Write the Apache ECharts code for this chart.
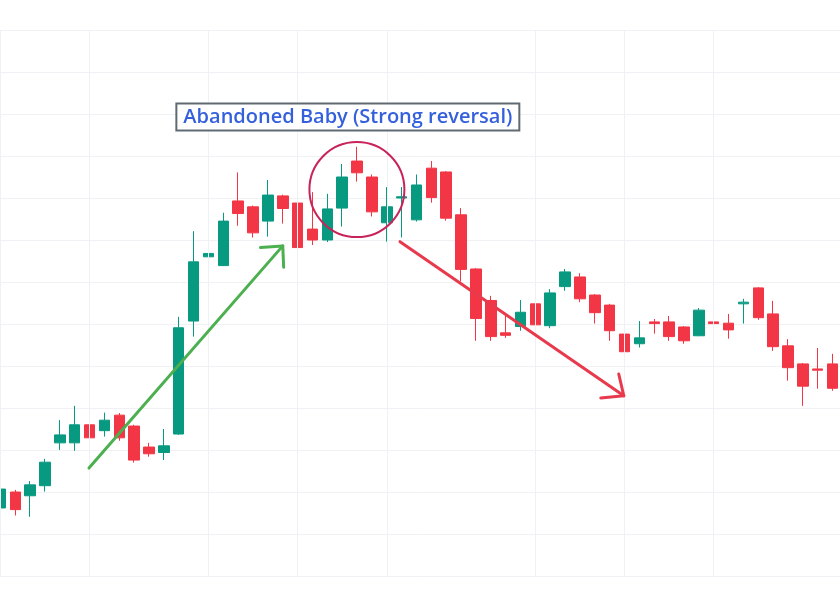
<!DOCTYPE html>
<html><head><meta charset="utf-8">
<script src="https://cdn.jsdelivr.net/npm/echarts@6/dist/echarts.min.js"></script>
<style>html,body{margin:0;padding:0;background:#fff;overflow:hidden;width:840px;height:602px;position:relative}
#c{position:absolute;left:-7px;top:0;width:848px;height:602px}</style>
</head><body><div id="c"></div>
<script>
// ---- data (price units) ----
const categories = ['1','2','3','4','5','6','7','8','9','10','11','12','13','14','15','16','17','18','19','20',
  '21','22','23','24','25','26','27','28','29','30','31','32','33','34','35','36','37','38','39','40',
  '41','42','43','44','45','46','47','48','49','50','51','52','53','54','55','56','57'];
const opens  = [16.2,20.0,19.1,21.5,31.7,31.7,36.0,34.6,38.3,35.7,30.7,29.4,33.8,60.7,76.0,73.9,89.3,87.9,84.5,90.5,
  88.8,82.6,80.0,87.6,98.8,95.0,84.1,90.0,84.8,97.1,96.2,86.0,73.1,65.6,57.9,59.4,64.8,59.6,68.9,71.2,
  66.9,64.5,57.6,55.3,60.5,60.5,59.3,57.2,60.5,60.2,64.8,68.6,62.4,54.8,50.5,49.3,50.5];
const closes = [20.7,15.8,21.7,27.1,33.6,36.0,32.9,37.1,32.9,27.6,29.1,31.0,59.1,74.8,76.8,84.5,86.3,81.7,90.7,87.5,
  78.2,80.0,87.4,95.0,96.0,86.7,87.9,90.3,93.1,90.1,85.2,73.0,61.3,57.0,57.3,62.8,59.8,67.4,72.4,66.0,
  62.7,58.4,53.4,56.7,60.1,57.0,56.0,63.3,60.1,58.6,65.2,61.5,54.6,49.6,45.2,49.0,44.7];
const lows   = [15.2,14.4,14.1,20.1,30.0,29.8,32.0,33.2,32.2,27.0,28.4,27.6,33.6,57.0,71.4,73.8,83.4,80.6,80.8,83.9,
  74.4,78.8,79.5,83.2,93.9,85.6,79.6,80.6,84.4,88.9,84.6,70.1,56.0,56.0,56.7,58.4,59.5,59.0,67.9,65.2,
  60.1,56.0,52.5,54.4,57.7,56.0,55.3,57.1,58.6,56.5,60.1,61.0,53.6,46.5,40.5,44.6,44.1];
const highs  = [21.9,20.5,22.6,27.9,37.1,40.5,39.1,38.9,38.8,36.0,31.7,35.0,61.7,82.1,84.8,86.5,96.1,88.2,94.3,90.8,
  89.2,91.4,91.0,98.1,102.2,95.6,92.6,92.6,95.6,98.8,96.4,87.6,73.3,66.7,62.6,65.7,66.0,68.3,73.1,72.1,
  67.1,64.8,58.2,60.7,61.2,61.9,59.5,63.8,66.2,62.4,66.0,68.8,65.5,56.4,50.7,54.3,52.9];
// value axis ticks
const yMin = 0, yMax = 130, yStep = 10;
// dates that carry a vertical time grid line
const timeMarks = ['1','7','15','21','27','37','43','49'];
// annotation text
const labelText = 'Abandoned Baby (Strong reversal)';

const candleData = opens.map((o, i) => [o, closes[i], lows[i], highs[i]]);

const UP = '#089981', DOWN = '#f23645', GRID = '#f0f1f4';

const chart = echarts.init(document.getElementById('c'), null, {renderer: 'canvas'});
chart.setOption({
  animation: false,
  backgroundColor: '#ffffff',
  grid: {left: 0, right: 1, top: 30, bottom: 26, containLabel: false},
  xAxis: {
    type: 'category', data: categories, boundaryGap: true,
    axisLine: {show: false}, axisTick: {show: false}, axisLabel: {show: false},
    splitLine: {show: false}
  },
  yAxis: {
    type: 'value', min: yMin, max: yMax, interval: yStep, scale: false,
    axisLine: {show: false}, axisTick: {show: false}, axisLabel: {show: false},
    splitLine: {show: true, lineStyle: {color: GRID, width: 1}}
  },
  series: [
    {
      type: 'line', data: [], z: 1, silent: true,
      markLine: {
        silent: true, symbol: ['none', 'none'], label: {show: false},
        lineStyle: {color: GRID, width: 1, type: 'solid'},
        data: timeMarks.map(c => ({xAxis: c}))
      }
    },
    {
      type: 'candlestick', z: 3, barWidth: 11,
      data: candleData,
      itemStyle: {color: UP, color0: DOWN, borderColor: UP, borderColor0: DOWN, borderWidth: 1}
    }
  ]
});

// ---- annotations anchored in data space (category index, price) ----
function px(idx, v) {
  const a = chart.convertToPixel({gridIndex: 0}, [0, v]);
  const b = chart.convertToPixel({gridIndex: 0}, [1, v]);
  return [a[0] + idx * (b[0] - a[0]), a[1]];
}
const greenArrow = {from: [5.96, 25.7], tip: [19.0, 78.6], arms: [[17.5, 78.2], [19.06, 73.5]]};
const redArrow = {from: [26.89, 79.6], tip: [41.95, 42.9], arms: [[40.4, 42.4], [41.61, 48.1]]};
const ring = {center: [23.99, 92.0], r: 47.5};
const labelAnchor = [23.38, 109.3];

function arrowEls(a, color) {
  const t = px(a.tip[0], a.tip[1]);
  return [
    {type: 'line', shape: {x1: px(...a.from)[0], y1: px(...a.from)[1], x2: t[0], y2: t[1]},
     style: {stroke: color, lineWidth: 3, lineCap: 'round'}, z: 10},
    {type: 'polyline', shape: {points: [px(...a.arms[0]), t, px(...a.arms[1])]},
     style: {stroke: color, lineWidth: 3, lineCap: 'round', lineJoin: 'round', fill: null}, z: 10}
  ];
}
const c = px(...ring.center);
const lp = px(...labelAnchor);
chart.setOption({
  graphic: [
    ...arrowEls(greenArrow, '#4caf50'),
    ...arrowEls(redArrow, '#e83a4c'),
    {type: 'circle', shape: {cx: c[0], cy: c[1], r: ring.r},
     style: {stroke: '#c8235b', lineWidth: 2, fill: null}, z: 10},
    {type: 'text', x: lp[0], y: lp[1], z: 11,
     style: {text: labelText, fill: '#3560dc', font: '600 20px "Open Sans"',
       align: 'center', verticalAlign: 'middle',
       backgroundColor: '#ffffff', borderColor: '#5f6a72', borderWidth: 2, padding: [3, 6, 2, 6]}}
  ]
});
</script>
</body></html>
